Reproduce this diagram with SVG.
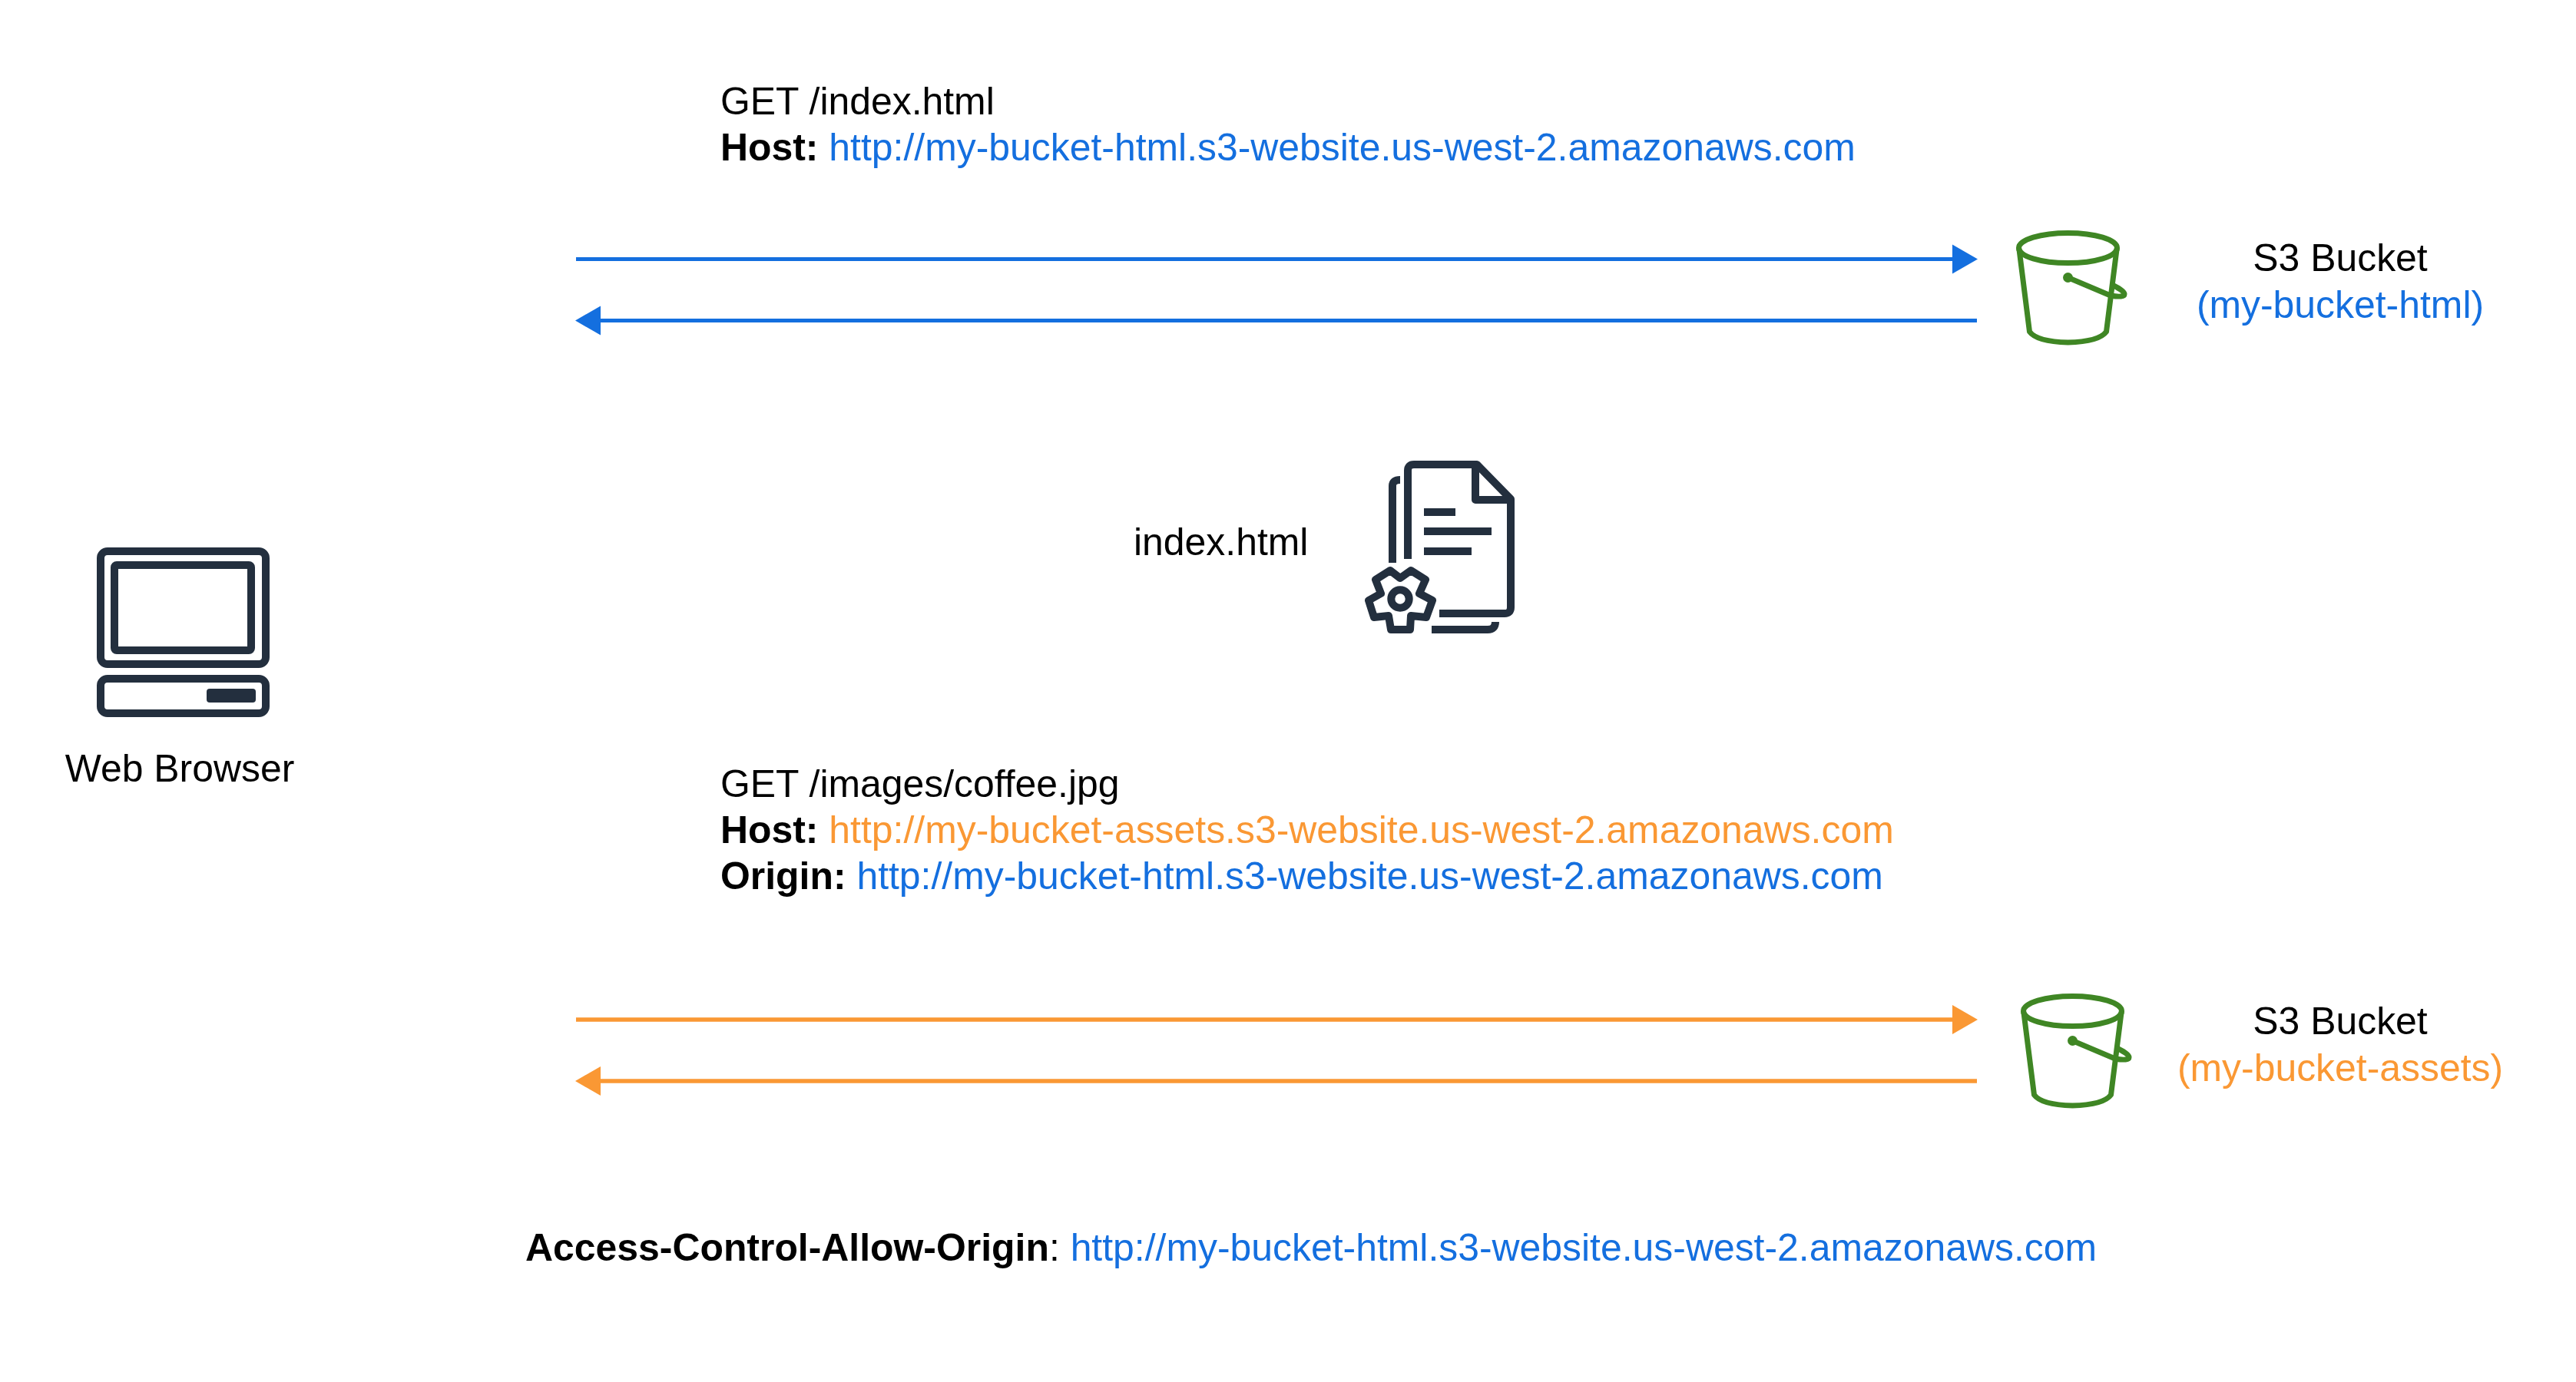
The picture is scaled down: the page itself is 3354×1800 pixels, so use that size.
<svg xmlns="http://www.w3.org/2000/svg" width="3354" height="1800" viewBox="0 0 3354 1800">
<style>
text{font-family:"Liberation Sans",Arial,sans-serif;font-size:49.9px;fill:#000}
.b{font-weight:bold}
.blue{fill:#146fdf}
.or{fill:#fa9834}
.m{text-anchor:middle}
.dk{fill:none;stroke:#232f3e;stroke-width:10}
.gr{fill:none;stroke:#3f8624;stroke-width:7;stroke-linejoin:round;stroke-linecap:round}
.cb{stroke:#146fdf;stroke-width:5;fill:none}
.co{stroke:#fa9834;stroke-width:5.5;fill:none}
</style>
<defs>
<g id="bucket">
<ellipse class="gr" cx="2692.5" cy="323" rx="64" ry="19.5"/>
<path class="gr" d="M2629 325L2642.5 432Q2652 445 2692.5 446Q2733 445 2742.5 432L2756 325"/>
<circle cx="2692.5" cy="361.5" r="6.5" fill="#3f8624"/>
<path class="gr" d="M2692.5 361.5L2748 385Q2766 388 2766 383Q2766 379 2752 372"/>
</g>
</defs>
<rect width="3354" height="1800" fill="#fff"/>
<g id="connectors">
<path class="cb" d="M750 337.5H2545"/><path fill="#146fdf" d="M2575 337.5L2542 318.5V356.5Z"/>
<path class="cb" d="M2574 417.5H780"/><path fill="#146fdf" d="M749 417.5L782 398.5V436.5Z"/>
<path class="co" d="M750 1328H2545"/><path fill="#fa9834" d="M2575 1328L2542 1309V1347Z"/>
<path class="co" d="M2574 1408H780"/><path fill="#fa9834" d="M749 1408L782 1389V1427Z"/>
</g>
<g id="browser">
<rect class="dk" x="131" y="718" width="215" height="147" rx="9"/>
<rect class="dk" x="149" y="736" width="178" height="111" rx="3"/>
<rect class="dk" x="131" y="884" width="215" height="45" rx="9"/>
<rect x="269" y="897" width="64" height="18" rx="4" fill="#232f3e"/>
<text class="m" x="234" y="1018">Web Browser</text>
</g>
<g id="bucket-html">
<use href="#bucket"/>
<text class="m" x="3047" y="353">S3 Bucket</text>
<text class="m blue" x="3047" y="414">(my-bucket-html)</text>
</g>
<g id="bucket-assets">
<use href="#bucket" x="6" y="994"/>
<text class="m" x="3047" y="1347">S3 Bucket</text>
<text class="m or" x="3047" y="1408">(my-bucket-assets)</text>
</g>
<g id="index-doc">
<text x="1476" y="723">index.html</text>
<path class="dk" stroke-linejoin="round" d="M1833 728V613Q1833 605 1841 605H1923L1967 650V791Q1967 799 1959 799H1874"/>
<path class="dk" stroke-linejoin="round" d="M1921 605V651H1967"/>
<path class="dk" d="M1854 667H1895M1854 692H1942M1854 718H1916"/>
<path class="dk" d="M1813 733V633Q1813 625 1823 625M1864 820H1937Q1947 820 1947 810"/>
<path class="dk" stroke-linejoin="round" d="M1823 753L1810 743L1791 755L1798 773L1782 782L1789 804L1808 802L1811 820H1836L1837 802L1857 804L1865 782L1848 773L1856 755L1837 743Z"/>
<circle class="dk" cx="1823" cy="780" r="11.7"/>
</g>
<g id="label-html-request">
<text x="938" y="149">GET /index.html</text>
<text x="938" y="209"><tspan class="b">Host:</tspan> <tspan class="blue">http://my-bucket-html.s3-website.us-west-2.amazonaws.com</tspan></text>
</g>
<g id="label-assets-request">
<text x="938" y="1038">GET /images/coffee.jpg</text>
<text x="938" y="1098"><tspan class="b">Host:</tspan> <tspan class="or">http://my-bucket-assets.s3-website.us-west-2.amazonaws.com</tspan></text>
<text x="938" y="1158"><tspan class="b">Origin:</tspan> <tspan class="blue">http://my-bucket-html.s3-website.us-west-2.amazonaws.com</tspan></text>
</g>
<g id="label-response">
<text x="684" y="1642"><tspan class="b">Access-Control-Allow-Origin</tspan>: <tspan class="blue">http://my-bucket-html.s3-website.us-west-2.amazonaws.com</tspan></text>
</g>
</svg>
